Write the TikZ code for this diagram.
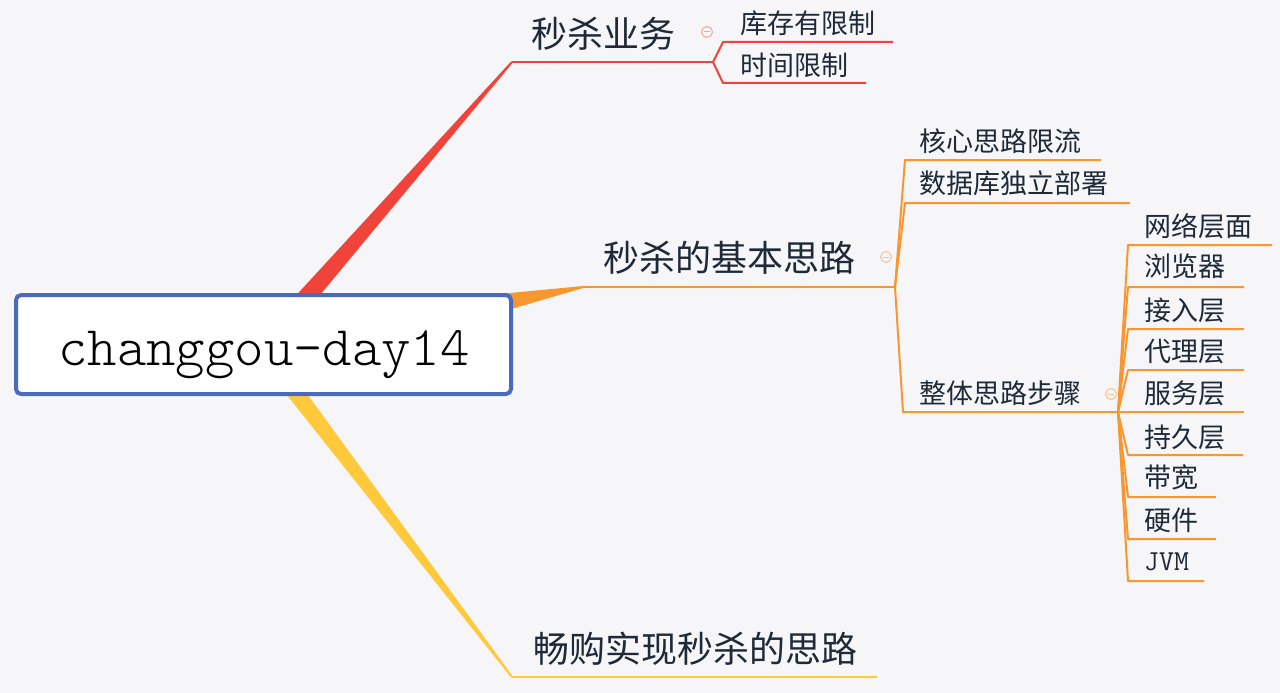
\documentclass[tikz,border=0pt]{standalone}
\usepackage{fontspec}
\newfontfamily\cjk{Noto Sans CJK SC}
\newfontfamily\lml{lmmonolt10-regular.otf}
\usetikzlibrary{calc}
\definecolor{bgc}{HTML}{F6F6F9}
\definecolor{txt}{HTML}{1E2A38}
\definecolor{redc}{HTML}{F0433A}
\definecolor{orgc}{HTML}{F8962F}
\definecolor{ylwc}{HTML}{FFC93C}
\definecolor{bluec}{HTML}{4A6BBD}
\definecolor{redi}{HTML}{F4A39D}
\definecolor{orgi}{HTML}{F9C18F}
\begin{document}
\begin{tikzpicture}[x=1pt,y=-1pt,
  tone/.style={anchor=west,inner sep=0pt,text=txt,font=\cjk\fontsize{36}{36}\selectfont},
  ttwo/.style={anchor=west,inner sep=0pt,text=txt,font=\cjk\fontsize{27}{27}\selectfont},
  tmono/.style={anchor=west,inner sep=0pt,text=txt,font=\ttfamily\fontsize{29}{29}\selectfont},
  lnred/.style={line width=2pt,draw=redc,line join=round},
  lnorg/.style={line width=2pt,draw=orgc,line join=round},
  lnylw/.style={line width=2pt,draw=ylwc,line join=round},
  fold/.style={circle,draw=#1,line width=1pt,minimum size=11pt,inner sep=0pt}
]
\fill[bgc] (0,0) rectangle (1280,693);
\useasboundingbox (0,0) rectangle (1280,693);

% tapered main branches
\coordinate (r0) at (305,299);
\coordinate (r1) at (512,62);
\coordinate (o0) at (505,302);
\coordinate (o1) at (583,287);
\coordinate (y0) at (293,389);
\coordinate (y1) at (512,677);
\fill[redc] ($(r0)!9pt!90:(r1)$) -- ($(r1)!1pt!-90:(r0)$) -- ($(r1)!1pt!90:(r0)$) -- ($(r0)!9pt!-90:(r1)$) -- cycle;
\fill[orgc] ($(o0)!8.5pt!90:(o1)$) -- ($(o1)!1pt!-90:(o0)$) -- ($(o1)!1pt!90:(o0)$) -- ($(o0)!8.5pt!-90:(o1)$) -- cycle;
\fill[ylwc] ($(y0)!8.5pt!90:(y1)$) -- ($(y1)!1pt!-90:(y0)$) -- ($(y1)!1pt!90:(y0)$) -- ($(y0)!8.5pt!-90:(y1)$) -- cycle;

% root
\node[draw=bluec,line width=4pt,fill=white,rounded corners=5pt,minimum width=495pt,minimum height=99pt,inner sep=0pt] (root) at (263.5,344.5) {};
\node[anchor=base,inner sep=0pt,text=black,font=\lml\fontsize{56}{56}\selectfont] (roottxt) at (264,365) {changgou-day14};

% level 1 texts
\node[tone] (n1) at (531,33.5) {秒杀业务};
\node[tone] (n2) at (603,258) {秒杀的基本思路};
\node[tone] (n3) at (533,649) {畅购实现秒杀的思路};

% red subtree
\coordinate (rf) at (713,62);
\coordinate (ra) at (723,42);
\coordinate (rae) at (893,42);
\coordinate (rb) at (723,83);
\coordinate (rbe) at (866,83);
\draw[lnred] (r1) -- (rf);
\draw[lnred] (rf) -- (ra) -- (rae);
\draw[lnred] (rf) -- (rb) -- (rbe);
\node[ttwo] (a1) at (740,23.5) {库存有限制};
\node[ttwo] (a2) at (740,65) {时间限制};
\node[fold=redi] (f1) at (707,32) {};
\draw[redi,line width=1pt] ($(f1.center)+(-3,0)$) -- ($(f1.center)+(3,0)$);

% yellow
\coordinate (ye) at (877,677);
\draw[lnylw] (y1) -- (ye);

% orange subtree
\coordinate (of) at (895,287);
\draw[lnorg] (o1) -- (of);
\coordinate (oa) at (905,160);
\coordinate (oae) at (1101,160);
\coordinate (ob) at (905,203);
\coordinate (obe) at (1130,203);
\coordinate (oc) at (903,412);
\coordinate (pf) at (1118,412);
\draw[lnorg] (of) -- (oa) -- (oae);
\draw[lnorg] (of) -- (ob) -- (obe);
\draw[lnorg] (of) -- (oc) -- (pf);
\node[ttwo] (b1) at (919,141.5) {核心思路限流};
\node[ttwo] (b2) at (919,183.5) {数据库独立部署};
\node[ttwo] (b3) at (919,393.5) {整体思路步骤};
\node[fold=orgi] (f2) at (886,257) {};
\draw[orgi,line width=1pt] ($(f2.center)+(-3,0)$) -- ($(f2.center)+(3,0)$);
\node[fold=orgi] (f3) at (1111,394) {};
\draw[orgi,line width=1pt] ($(f3.center)+(-3,0)$) -- ($(f3.center)+(3,0)$);

% level 3
\foreach \yy/\xe/\nm in {245/1272/c1,287/1244/c2,329/1244/c3,370/1244/c4,412/1244/c5,455/1243/c6,497/1216/c7,539/1216/c8,581/1204/c9}{
  \coordinate (\nm s) at (1128,\yy);
  \coordinate (\nm e) at (\xe,\yy);
  \draw[lnorg] (pf) -- (\nm s) -- (\nm e);
}
\node[ttwo] (c1) at (1144,226) {网络层面};
\node[ttwo] (c2) at (1144,266.5) {浏览器};
\node[ttwo] (c3) at (1144,310) {接入层};
\node[ttwo] (c4) at (1144,351.5) {代理层};
\node[ttwo] (c5) at (1144,393.5) {服务层};
\node[ttwo] (c6) at (1144,437) {持久层};
\node[ttwo] (c7) at (1144,477) {带宽};
\node[ttwo] (c8) at (1144,520) {硬件};
\node[tmono] (c9) at (1144,562) {JVM};
\end{tikzpicture}
\end{document}
